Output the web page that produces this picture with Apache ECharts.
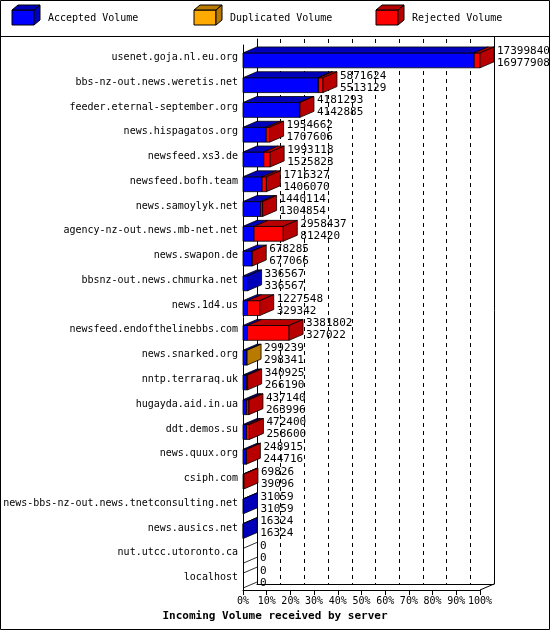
<!DOCTYPE html>
<html>
<head>
<meta charset="utf-8">
<script src="https://cdn.jsdelivr.net/npm/echarts@6/dist/echarts.min.js"></script>
<style>
  html, body { margin: 0; padding: 0; background: #fff; }
  #chart { width: 550px; height: 630px; }
</style>
</head>
<body>
<div id="chart"></div>
<script>
// hosts, top to bottom
const hosts = ['usenet.goja.nl.eu.org', 'bbs-nz-out.news.weretis.net', 'feeder.eternal-september.org',
  'news.hispagatos.org', 'newsfeed.xs3.de', 'newsfeed.bofh.team', 'news.samoylyk.net',
  'agency-nz-out.news.mb-net.net', 'news.swapon.de', 'bbsnz-out.news.chmurka.net', 'news.1d4.us',
  'newsfeed.endofthelinebbs.com', 'news.snarked.org', 'nntp.terraraq.uk', 'hugayda.aid.in.ua',
  'ddt.demos.su', 'news.quux.org', 'csiph.com', 'news-bbs-nz-out.news.tnetconsulting.net',
  'news.ausics.net', 'nut.utcc.utoronto.ca', 'localhost']
const offered = [17399840, 5871624, 4181293, 1954662, 1993118, 1716327, 1440114, 2958437, 678285,
  336567, 1227548, 3381802, 299239, 340925, 437140, 472400, 248915, 69826, 31059, 16324, 0, 0]
const accepted = [16977908, 5513129, 4142885, 1707606, 1525823, 1406070, 1304854, 812420, 677066,
  336567, 329342, 327022, 298341, 266190, 263996, 258600, 244716, 39096, 31059, 16324, 0, 0]
const duplicated = [0, 40000, 0, 0, 0, 0, 0, 0, 0, 0, 0, 0, 898, 0, 0, 0, 0, 0, 0, 0, 0, 0]
const rejected = offered.map((v, i) => v - accepted[i] - duplicated[i])

const MAXV = 17399840
const DX = 14, DY = 6
const FONT = 'DejaVu Sans Mono'
const colors = [
  { front: '#0000ff', dark: '#0000bb' },
  { front: '#ffaa00', dark: '#b87a00' },
  { front: '#ff0000', dark: '#b80000' }
]

const rows = hosts.map((h, i) => [i, accepted[i], duplicated[i], rejected[i], offered[i]])

function renderItem(params, api) {
  const i = api.value(0)
  const c = api.coord([0, i])
  const h = api.size([0, 1])[1] * 0.6
  const y0 = c[1] - h / 2 + 3, y1 = y0 + h
  const kids = []
  let start = 0
  let lastIdx = -1
  for (let k = 0; k < 3; k++) if (api.value(k + 1) > 0) lastIdx = k
  for (let k = 0; k < 3; k++) {
    const v = api.value(k + 1)
    if (v <= 0) continue
    const xa = api.coord([start, i])[0]
    const xb = api.coord([start + v, i])[0]
    start += v
    kids.push({ type: 'rect', shape: { x: xa, y: y0, width: xb - xa, height: h },
      style: { stroke: '#000', lineWidth: 0.8, fill: colors[k].front } })
    kids.push({ type: 'polygon', shape: { points: [[xa, y0], [xa + DX, y0 - DY], [xb + DX, y0 - DY], [xb, y0]] },
      style: { stroke: '#000', lineWidth: 0.8, fill: colors[k].dark } })
    if (k === lastIdx) {
      kids.push({ type: 'polygon', shape: { points: [[xb, y0], [xb + DX, y0 - DY], [xb + DX, y1 - DY], [xb, y1]] },
        style: { stroke: '#000', lineWidth: 0.8, fill: colors[k].dark } })
    }
  }
  if (lastIdx < 0) {
    kids.push({ type: 'polyline', shape: { points: [[c[0], y1], [c[0] + DX, y1 - DY]] }, style: { stroke: '#000', lineWidth: 0.8 } })
    kids.push({ type: 'polyline', shape: { points: [[c[0], y0], [c[0] + DX, y0 - DY]] }, style: { stroke: '#000', lineWidth: 0.8 } })
  }
  const xe = api.coord([api.value(4), i])[0] + DX + 3
  kids.push({ type: 'text', style: { x: xe, y: y0 - DY - 2, text: api.value(4) + '\n' + api.value(1),
    font: '11px ' + FONT, fill: '#000', lineHeight: 12 } })
  return { type: 'group', children: kids }
}

function legendBox(x, k, label) {
  return [
    { type: 'rect', shape: { x: x, y: 10, width: 22, height: 15 }, style: { fill: colors[k].front, stroke: '#000' } },
    { type: 'polygon', shape: { points: [[x, 10], [x + 6, 5], [x + 28, 5], [x + 22, 10]] }, style: { fill: colors[k].dark, stroke: '#000' } },
    { type: 'polygon', shape: { points: [[x + 22, 10], [x + 28, 5], [x + 28, 20], [x + 22, 25]] }, style: { fill: colors[k].dark, stroke: '#000' } },
    { type: 'text', style: { x: x + 36, y: 13, text: label, font: '10px ' + FONT, fill: '#000' } }
  ]
}

const chart = echarts.init(document.getElementById('chart'))
chart.setOption({
  animation: false,
  backgroundColor: '#fff',
  grid: [
    { left: 243, right: 70, top: 45, bottom: 40, containLabel: false, outerBoundsMode: 'none' },
    { left: 257, right: 56, top: 39, bottom: 46, containLabel: false, outerBoundsMode: 'none' }
  ],
  xAxis: [
    { type: 'value', gridIndex: 0, min: 0, max: MAXV, interval: MAXV / 10,
      axisLine: { show: true, lineStyle: { color: '#000' } },
      axisTick: { show: true, lineStyle: { color: '#000' } },
      splitLine: { show: false },
      axisLabel: { color: '#000', fontFamily: FONT, fontSize: 10, margin: 6, showMaxLabel: true, showMinLabel: true,
        hideOverlap: false, formatter: v => Math.round(v / MAXV * 100) + '%' } },
    { type: 'value', gridIndex: 1, min: 0, max: MAXV, interval: MAXV / 10,
      axisLine: { show: true, lineStyle: { color: '#000' } }, axisTick: { show: false }, axisLabel: { show: false },
      splitLine: { show: true, lineStyle: { color: '#000', type: [4, 4], width: 1 } } }
  ],
  yAxis: [
    { type: 'category', gridIndex: 0, data: hosts, inverse: true,
      axisLine: { show: true, lineStyle: { color: '#000' } }, axisTick: { show: false },
      axisLabel: { color: '#000', fontFamily: FONT, fontSize: 10, margin: 5, interval: 0 } },
    { type: 'category', gridIndex: 1, data: hosts, inverse: true,
      axisLine: { show: true, lineStyle: { color: '#000' } }, axisTick: { show: false }, axisLabel: { show: false } }
  ],
  series: [{
    type: 'custom', xAxisIndex: 0, yAxisIndex: 0, renderItem: renderItem, data: rows,
    encode: { x: [1, 4], y: 0 }, clip: false
  }],
  graphic: [
    { type: 'rect', shape: { x: 0.5, y: 0.5, width: 549, height: 629 }, style: { fill: null, stroke: '#000' }, silent: true },
    { type: 'line', shape: { x1: 0, y1: 36.5, x2: 550, y2: 36.5 }, style: { stroke: '#000' } },
    { type: 'line', shape: { x1: 494.5, y1: 37, x2: 494.5, y2: 584 }, style: { stroke: '#000' } },
    { type: 'line', shape: { x1: 480, y1: 590, x2: 494, y2: 584 }, style: { stroke: '#000' } },
    ...legendBox(12, 0, 'Accepted Volume'),
    ...legendBox(194, 1, 'Duplicated Volume'),
    ...legendBox(376, 2, 'Rejected Volume'),
    { type: 'text', style: { x: 275, y: 611, text: 'Incoming Volume received by server', align: 'center',
      font: 'bold 11px ' + FONT, fill: '#000' } }
  ]
})
</script>
</body>
</html>
